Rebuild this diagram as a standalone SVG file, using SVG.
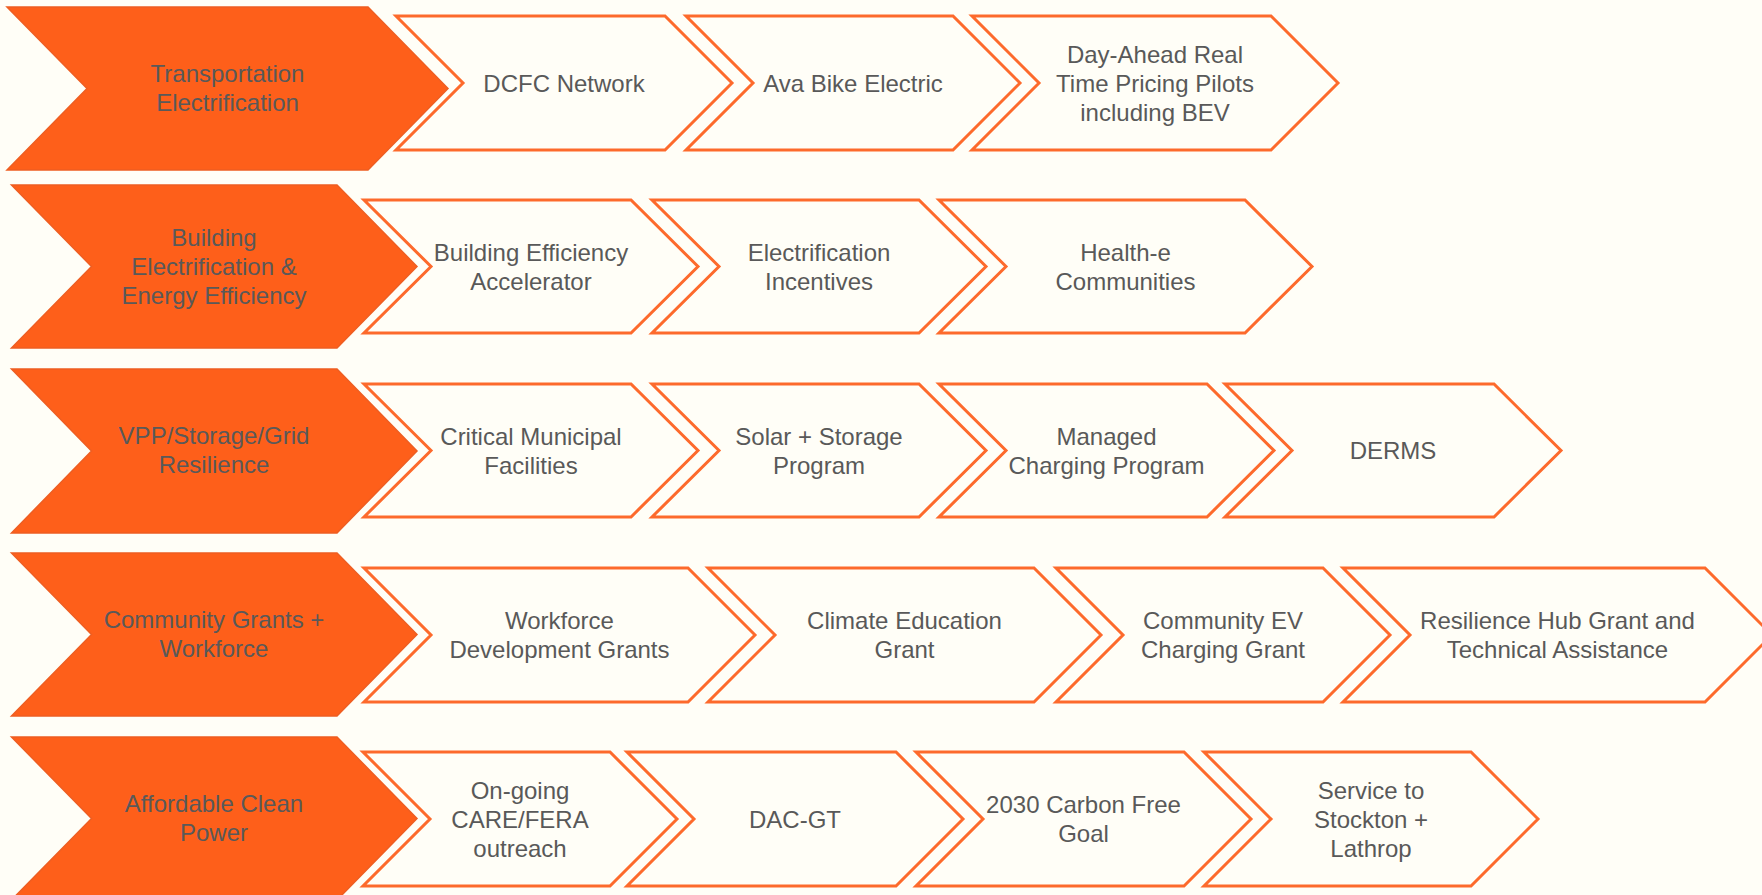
<svg xmlns="http://www.w3.org/2000/svg" width="1762" height="895" viewBox="0 0 1762 895">
<style>
.bg{fill:#FFFEF7}
.cat{fill:#FE5F1A;stroke:#EE5E22;stroke-width:1.5}
.item{fill:#FFFEF7;stroke:#FD6A2C;stroke-width:3}
text{font-family:"Liberation Sans",Arial,sans-serif;font-size:24px;fill:#595959;text-anchor:middle}
</style>
<rect class="bg" x="0" y="0" width="1762" height="895"/>
<g id="connectors"/>
<g id="row1">
<g id="cat-transport"><polygon class="cat" points="7,7 368,7 448,88.5 368,170 7,170 87,88.5"/><text x="227.5" y="82">Transportation</text><text x="227.5" y="111">Electrification</text></g>
<g id="dcfc"><polygon class="item" points="396,16 665,16 732,83 665,150 396,150 463,83"/><text x="564" y="91.5">DCFC Network</text></g>
<g id="ava"><polygon class="item" points="686,16 953,16 1020,83 953,150 686,150 753,83"/><text x="853" y="91.5">Ava Bike Electric</text></g>
<g id="dayahead"><polygon class="item" points="972,16 1271,16 1338,83 1271,150 972,150 1039,83"/><text x="1155" y="62.5">Day-Ahead Real</text><text x="1155" y="91.5">Time Pricing Pilots</text><text x="1155" y="120.5">including BEV</text></g>
</g>
<g id="row2">
<g id="cat-building"><polygon class="cat" points="11.5,185 337,185 417,266.5 337,348 11.5,348 91.5,266.5"/><text x="214" y="246">Building</text><text x="214" y="275">Electrification &amp;</text><text x="214" y="304">Energy Efficiency</text></g>
<g id="bea"><polygon class="item" points="364,200 631,200 698,266.5 631,333 364,333 431,266.5"/><text x="531" y="260.5">Building Efficiency</text><text x="531" y="289.5">Accelerator</text></g>
<g id="elec-inc"><polygon class="item" points="652,200 919,200 986,266.5 919,333 652,333 719,266.5"/><text x="819" y="260.5">Electrification</text><text x="819" y="289.5">Incentives</text></g>
<g id="health"><polygon class="item" points="939,200 1245,200 1312,266.5 1245,333 939,333 1006,266.5"/><text x="1125.5" y="260.5">Health-e</text><text x="1125.5" y="289.5">Communities</text></g>
</g>
<g id="row3">
<g id="cat-vpp"><polygon class="cat" points="11.5,369 337,369 417,451 337,533 11.5,533 91.5,451"/><text x="214" y="444">VPP/Storage/Grid</text><text x="214" y="473">Resilience</text></g>
<g id="cmf"><polygon class="item" points="364,384 631,384 698,450.5 631,517 364,517 431,450.5"/><text x="531" y="444.5">Critical Municipal</text><text x="531" y="473.5">Facilities</text></g>
<g id="solar"><polygon class="item" points="652,384 919,384 986,450.5 919,517 652,517 719,450.5"/><text x="819" y="444.5">Solar + Storage</text><text x="819" y="473.5">Program</text></g>
<g id="managed"><polygon class="item" points="939,384 1207,384 1274,450.5 1207,517 939,517 1006,450.5"/><text x="1106.5" y="444.5">Managed</text><text x="1106.5" y="473.5">Charging Program</text></g>
<g id="derms"><polygon class="item" points="1225,384 1494,384 1561,450.5 1494,517 1225,517 1292,450.5"/><text x="1393" y="459">DERMS</text></g>
</g>
<g id="row4">
<g id="cat-community"><polygon class="cat" points="11.5,553 337,553 417,634.5 337,716 11.5,716 91.5,634.5"/><text x="214" y="628">Community Grants +</text><text x="214" y="657">Workforce</text></g>
<g id="wdg"><polygon class="item" points="364,568 688,568 755,635 688,702 364,702 431,635"/><text x="559.5" y="629">Workforce</text><text x="559.5" y="658">Development Grants</text></g>
<g id="ceg"><polygon class="item" points="708,568 1034,568 1101,635 1034,702 708,702 775,635"/><text x="904.5" y="629">Climate Education</text><text x="904.5" y="658">Grant</text></g>
<g id="cevg"><polygon class="item" points="1056,568 1323,568 1390,635 1323,702 1056,702 1123,635"/><text x="1223" y="629">Community EV</text><text x="1223" y="658">Charging Grant</text></g>
<g id="rhub"><polygon class="item" points="1343,568 1705,568 1772,635 1705,702 1343,702 1410,635"/><text x="1557.5" y="629">Resilience Hub Grant and</text><text x="1557.5" y="658">Technical Assistance</text></g>
</g>
<g id="row5">
<g id="cat-affordable"><polygon class="cat" points="11.5,737 337,737 417,818.5 337,900 11.5,900 91.5,818.5"/><text x="214" y="812">Affordable Clean</text><text x="214" y="841">Power</text></g>
<g id="care"><polygon class="item" points="363,752 610,752 677,819 610,886 363,886 430,819"/><text x="520" y="798.5">On-going</text><text x="520" y="827.5">CARE/FERA</text><text x="520" y="856.5">outreach</text></g>
<g id="dacgt"><polygon class="item" points="627,752 896,752 963,819 896,886 627,886 694,819"/><text x="795" y="827.5">DAC-GT</text></g>
<g id="carbon"><polygon class="item" points="916,752 1184,752 1251,819 1184,886 916,886 983,819"/><text x="1083.5" y="813">2030 Carbon Free</text><text x="1083.5" y="842">Goal</text></g>
<g id="stockton"><polygon class="item" points="1204,752 1471,752 1538,819 1471,886 1204,886 1271,819"/><text x="1371" y="798.5">Service to</text><text x="1371" y="827.5">Stockton +</text><text x="1371" y="856.5">Lathrop</text></g>
</g>
</svg>
